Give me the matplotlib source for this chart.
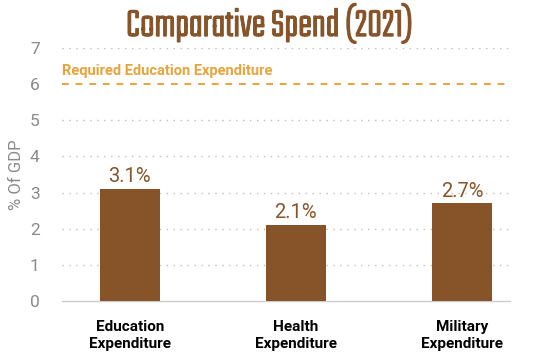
import matplotlib.pyplot as plt
import matplotlib.patheffects as pe

categories = ["Education\nExpenditure", "Health\nExpenditure", "Military\nExpenditure"]
values = [3.1, 2.1, 2.7]
value_labels = ["3.1%", "2.1%", "2.7%"]
required_level = 6
yticks = [0, 1, 2, 3, 4, 5, 6, 7]

BROWN = "#87542A"
ORANGE = "#E8A33D"
GREY = "#8A8A8A"

plt.rcParams["font.family"] = ["Roboto", "DejaVu Sans"]

fig = plt.figure(figsize=(5.38, 3.56), dpi=100)
ax = fig.add_axes([0.115, 0.1545, 0.833, 0.7105])

x = list(range(len(categories)))
ax.bar(x, values, width=0.36, color=BROWN, zorder=3)

for xi, v, lab in zip(x, values, value_labels):
    ax.text(xi, v + 0.08, lab, ha="center", va="bottom",
            fontsize=14.5, color=BROWN, zorder=4)

# dotted grid, skipped where the dashed target line sits
grid_levels = [y for y in yticks[1:] if y != required_level]
ax.hlines(grid_levels, -0.41, 2.29, colors="#BDBDBD",
          linestyles=(0, (1, 4)), linewidth=1, zorder=0)

ax.axhline(required_level, color=ORANGE, linestyle=(0, (3.5, 3.5)),
           linewidth=1.4, zorder=2)
ax.text(-0.41, required_level + 0.18, "Required Education Expenditure",
        ha="left", va="bottom", fontsize=10.5, fontweight="bold", color=ORANGE)

ax.set_xlim(-0.41, 2.29)
ax.set_ylim(0, 7)
ax.set_yticks(yticks)
ax.set_xticks(x)
ax.set_xticklabels(categories, fontsize=11, fontweight="bold", color="black",
                   linespacing=1.25)
ax.tick_params(axis="x", length=0, pad=14)
ax.tick_params(axis="y", length=0, labelsize=12.5, labelcolor=GREY, pad=16)

for side in ["top", "right", "left"]:
    ax.spines[side].set_visible(False)
ax.spines["bottom"].set_color("#CCCCCC")
ax.spines["bottom"].set_linewidth(1)

ax.set_ylabel("% Of GDP", fontsize=12, color=GREY, labelpad=4)

fig.text(0.5, 0.935, "Comparative Spend (2021)", ha="center", va="center",
         fontsize=30, fontweight="bold", color=BROWN,
         family=["Teko", "Oswald", "Barlow Condensed", "DejaVu Sans"],
         path_effects=[pe.withStroke(linewidth=0.6, foreground=BROWN)])

fig.savefig("out.png", dpi=100, facecolor="white")
